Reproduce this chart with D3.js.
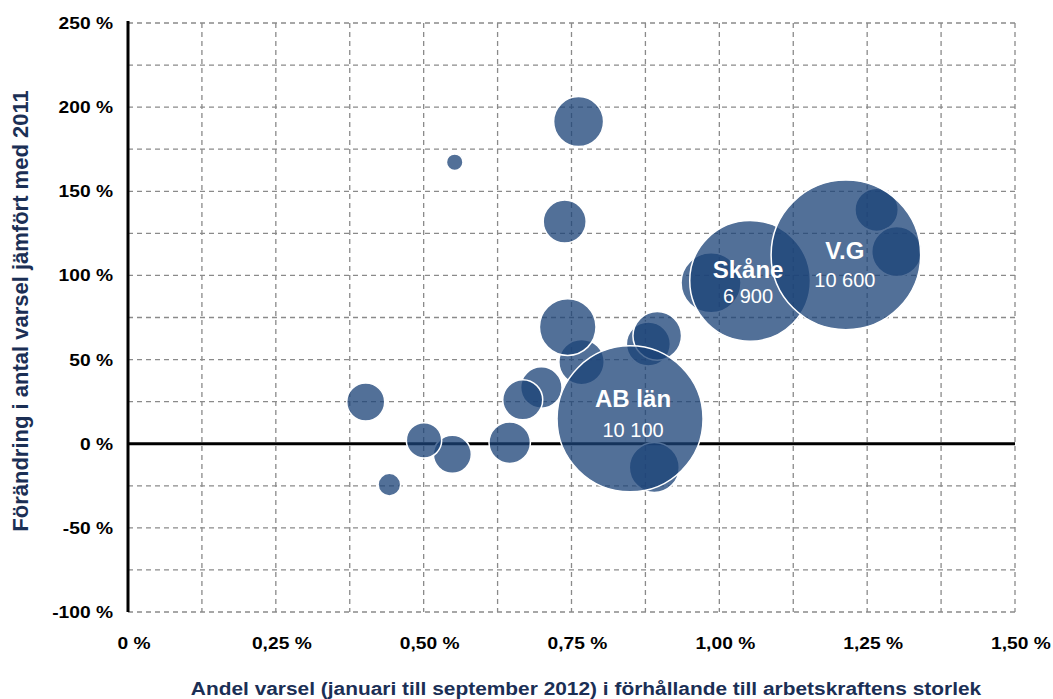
<!DOCTYPE html>
<html>
<head>
<meta charset="utf-8">
<script src="https://cdn.jsdelivr.net/npm/d3@7"></script>
<style>
  html, body { margin: 0; padding: 0; background: #fff; }
  svg { display: block; font-family: "Liberation Sans", Arial, sans-serif; }
</style>
</head>
<body>
<svg id="chart" width="1053" height="699"></svg>
<script>
// Share of notices (Jan–Sep 2012) relative to labour force, in %
const shareX = [0.5525, 0.762, 0.7385, 0.402, 0.442, 0.5485, 0.5006, 0.6455, 0.699, 0.6675,
                0.767, 0.7436, 0.88, 0.895, 0.89, 0.849, 0.986, 1.052, 1.266, 1.30, 1.214];
// Change in number of notices compared with 2011, in %
const changeY = [167.3, 191.4, 132, 24.8, -24.3, -6.3, 2.0, 0.6, 33.4, 26.1,
                 48.5, 69.3, 59.2, 64.1, -14.1, 14.8, 95.6, 96.8, 139, 114.2, 112.2];
// Number of notices (bubble size)
const notices = [130, 1184, 876, 684, 242, 684, 593, 812, 812, 758,
                 976, 1518, 917, 1120, 1184, 10100, 1706, 6900, 890, 1184, 10600];
// Labelled regions: index into the arrays above
const labelIndex = [15, 17, 20];
const labelNames = ["AB län", "Skåne", "V.G"];
const labelValues = ["10 100", "6 900", "10 600"];

const xTicks = [0, 0.25, 0.5, 0.75, 1.0, 1.25, 1.5];
const xTickLabels = ["0 %", "0,25 %", "0,50 %", "0,75 %", "1,00 %", "1,25 %", "1,50 %"];
const yTicks = [-100, -50, 0, 50, 100, 150, 200, 250];
const yTickLabels = ["-100 %", "-50 %", "0 %", "50 %", "100 %", "150 %", "200 %", "250 %"];
const xTitle = "Andel varsel (januari till september 2012) i förhållande till arbetskraftens storlek";
const yTitle = "Förändring i antal varsel jämfört med 2011";

const svg = d3.select("#chart");
const L = 128, R = 1015, T = 23, B = 612;
const x = d3.scaleLinear().domain([0, 1.5]).range([L, R]);
const y = d3.scaleLinear().domain([-100, 250]).range([B, T]);
const r = d3.scaleSqrt().domain([0, 10100]).range([0, 73]);

const gridColor = "#8a8a8a";
const g = svg.append("g");
g.selectAll("line.vg").data(d3.range(1, 13).map(i => i * 0.125)).join("line")
  .attr("x1", d => x(d)).attr("x2", d => x(d)).attr("y1", T).attr("y2", B)
  .attr("stroke", gridColor).attr("stroke-width", 1.3).attr("stroke-dasharray", "5,4");
g.selectAll("line.hg").data(d3.range(-100, 251, 25).filter(v => v !== 0)).join("line")
  .attr("x1", L).attr("x2", R).attr("y1", d => y(d)).attr("y2", d => y(d))
  .attr("stroke", gridColor).attr("stroke-width", 1.3).attr("stroke-dasharray", "5,4");

svg.append("line").attr("x1", L).attr("x2", R).attr("y1", y(0)).attr("y2", y(0))
  .attr("stroke", "#000").attr("stroke-width", 3);
svg.append("line").attr("x1", L).attr("x2", L).attr("y1", T - 2).attr("y2", B)
  .attr("stroke", "#000").attr("stroke-width", 3);

svg.append("g").selectAll("text").data(yTicks).join("text")
  .attr("transform", d => `translate(113,${y(d) + 6}) scale(1.13,1)`)
  .attr("text-anchor", "end").attr("font-size", 17).attr("font-weight", "bold")
  .attr("fill", "#000").text((d, i) => yTickLabels[i]);
svg.append("g").selectAll("text").data(xTicks).join("text")
  .attr("transform", d => `translate(${x(d) + 6},649) scale(1.13,1)`)
  .attr("text-anchor", "middle").attr("font-size", 17).attr("font-weight", "bold")
  .attr("fill", "#000").text((d, i) => xTickLabels[i]);

svg.append("text").attr("transform", `translate(${(190 + 982) / 2},695) scale(1.13,1)`)
  .attr("text-anchor", "middle").attr("font-size", 18.5).attr("font-weight", "bold")
  .attr("fill", "#1b2f55").text(xTitle);
svg.append("text").attr("transform", "translate(28,311) rotate(-90)")
  .attr("text-anchor", "middle").attr("font-size", 22).attr("font-weight", "bold")
  .attr("fill", "#1b2f55").text(yTitle);

const idx = d3.range(shareX.length);
svg.append("g").selectAll("circle").data(idx).join("circle")
  .attr("cx", i => x(shareX[i])).attr("cy", i => y(changeY[i])).attr("r", i => r(notices[i]))
  .attr("fill", "#1c4377").attr("fill-opacity", 0.76)
  .attr("stroke", "#fff").attr("stroke-width", 1.5);

const lab = svg.append("g");
const nameDy = [-12, -3, 4];
const valDy = [18, 22, 32];
labelIndex.forEach((k, j) => {
  lab.append("text").attr("x", x(shareX[k]) + [3, -2, -1][j]).attr("y", y(changeY[k]) + nameDy[j])
    .attr("text-anchor", "middle").attr("font-size", 24).attr("font-weight", "bold")
    .attr("fill", "#fff").text(labelNames[j]);
  lab.append("text").attr("x", x(shareX[k]) + [3, -2, -1][j]).attr("y", y(changeY[k]) + valDy[j])
    .attr("text-anchor", "middle").attr("font-size", 20)
    .attr("fill", "#fff").text(labelValues[j]);
});
</script>
</body>
</html>
